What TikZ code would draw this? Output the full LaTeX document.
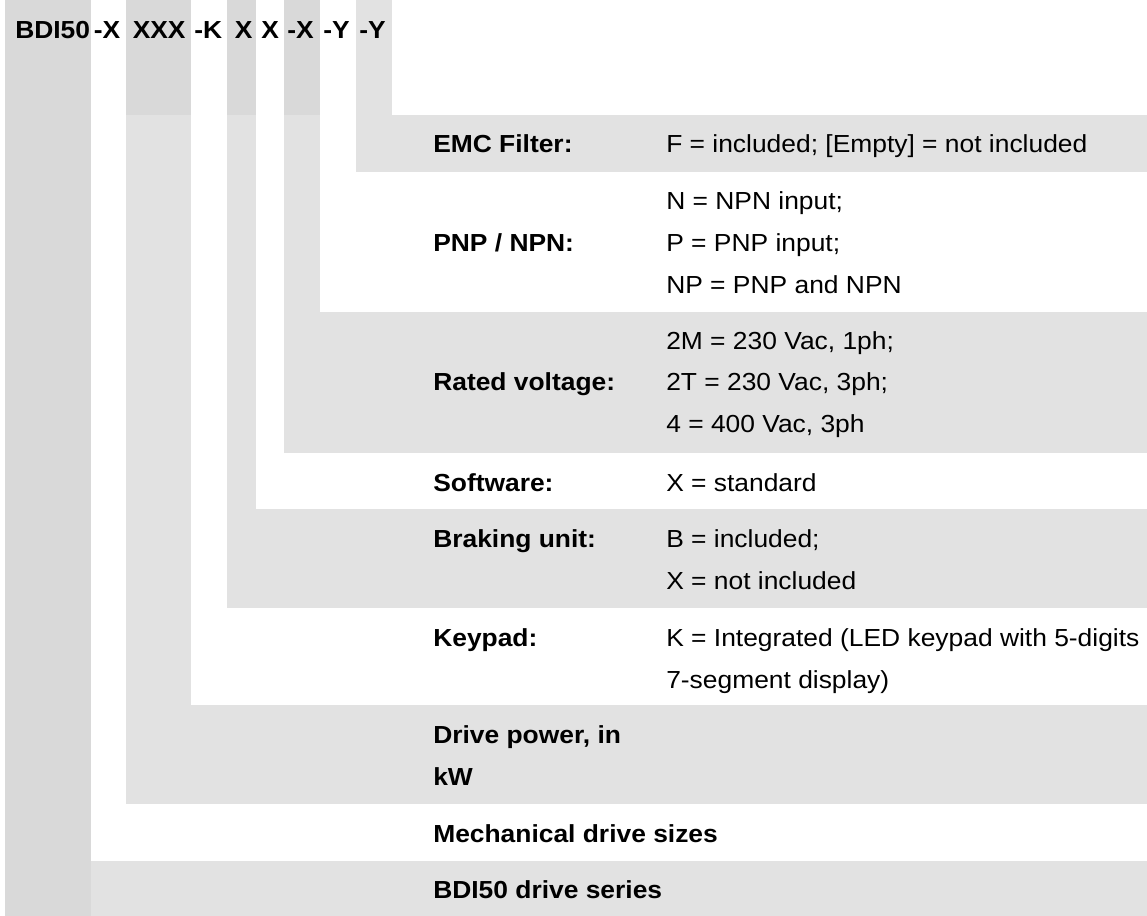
\documentclass[tikz,border=0pt]{standalone}
\usepackage{fontspec}
\setmainfont{Liberation Sans}[FakeStretch=1.07]
\definecolor{hdr}{HTML}{D9D9D9}
\definecolor{rowc}{HTML}{E2E2E2}
\newcommand\fsz{\fontsize{18.5}{22}\selectfont}
\tikzset{
  lab/.style={anchor=base west, inner sep=0pt, font=\bfseries\fsz},
  val/.style={anchor=base west, inner sep=0pt, font=\fsz},
  darkcell/.style={fill=hdr},
  lightcell/.style={fill=rowc}
}
\begin{document}
\begin{tikzpicture}[x=0.75pt,y=-0.75pt]
\useasboundingbox (0,0) rectangle (1147,916);
% header cells
\fill[darkcell] (5,0) rectangle (91,916);
\fill[darkcell] (126,0) rectangle (191,115);
\fill[darkcell] (227,0) rectangle (256,115);
\fill[darkcell] (284,0) rectangle (320,115);
\fill[lightcell] (356,0) rectangle (392,115);
% vertical stems
\fill[lightcell] (126,115) rectangle (191,705);
\fill[lightcell] (227,115) rectangle (256,509);
\fill[lightcell] (284,115) rectangle (320,312);
% shaded rows
\fill[lightcell] (356,115) rectangle (1147,172);
\fill[lightcell] (284,312) rectangle (1147,453);
\fill[lightcell] (227,509) rectangle (1147,608);
\fill[lightcell] (126,705) rectangle (1147,804);
\fill[lightcell] (91,861) rectangle (1147,916);
% header text
\node[lab] (h1) at (15,39) {BDI50};
\node[lab] (h2) at (93.5,39) {-X};
\node[lab] (h3) at (132.5,39) {XXX};
\node[lab] (h4) at (194,39) {-K};
\node[lab] (h5) at (234.5,39) {X};
\node[lab] (h6) at (261,39) {X};
\node[lab] (h7) at (287,39) {-X};
\node[lab] (h8) at (323,39) {-Y};
\node[lab] (h9) at (359,39) {-Y};
% EMC
\node[lab] (l1) at (433,152.7) {EMC Filter:};
\node[val] (v1) at (666,152.7) {F = included; [Empty] = not included};
% PNP
\node[lab] (l2) at (433,251.7) {PNP / NPN:};
\node[val] (v2a) at (666,210) {N = NPN input;};
\node[val] (v2b) at (666,251.7) {P = PNP input;};
\node[val] (v2c) at (666,293.4) {NP = PNP and NPN};
% Rated voltage
\node[lab] (l3) at (433,391) {Rated voltage:};
\node[val] (v3a) at (666,349.3) {2M = 230 Vac, 1ph;};
\node[val] (v3b) at (666,391) {2T = 230 Vac, 3ph;};
\node[val] (v3c) at (666,432.7) {4 = 400 Vac, 3ph};
% Software
\node[lab] (l4) at (433,491) {Software:};
\node[val] (v4) at (666,491) {X = standard};
% Braking
\node[lab] (l5) at (433,547) {Braking unit:};
\node[val] (v5a) at (666,547) {B = included;};
\node[val] (v5b) at (666,589) {X = not included};
% Keypad
\node[lab] (l6) at (433,646) {Keypad:};
\node[val] (v6a) at (666,646) {K = Integrated (LED keypad with 5-digits};
\node[val] (v6b) at (666,688) {7-segment display)};
% Drive power
\node[lab] (l7a) at (433,743.5) {Drive power, in};
\node[lab] (l7b) at (433,785) {kW};
% Mechanical
\node[lab] (l8) at (433,842) {Mechanical drive sizes};
% Series
\node[lab] (l9) at (433,898.5) {BDI50 drive series};
\end{tikzpicture}
\end{document}
